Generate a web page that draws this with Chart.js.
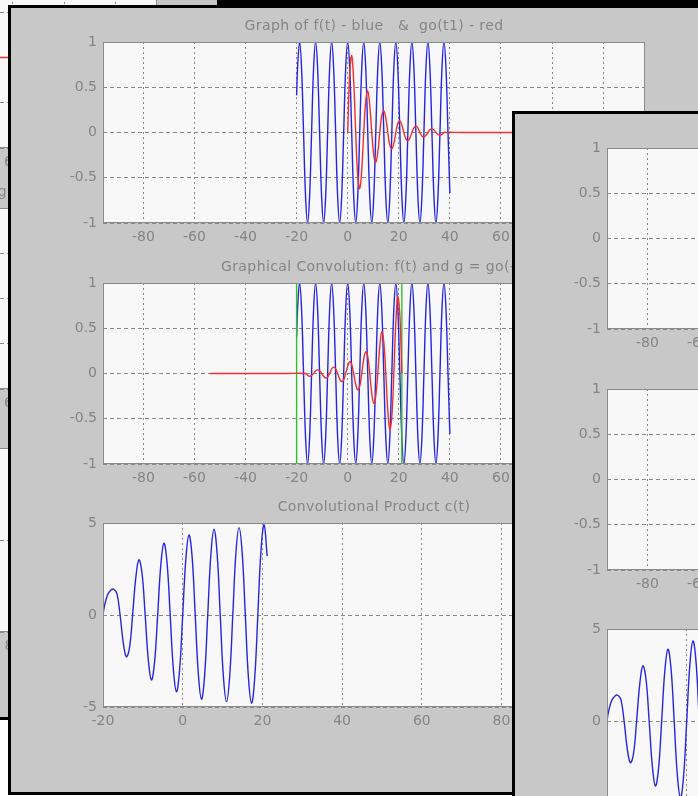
<!DOCTYPE html>
<html>
<head>
<meta charset="utf-8">
<script src="https://cdn.jsdelivr.net/npm/chart.js@4.4.1/dist/chart.umd.min.js"></script>
<style>
    html, body { margin: 0; padding: 0; background: #fff; width: 698px; height: 796px; overflow: hidden; position: relative; }
    .win { position: absolute; background: #c8c8c8; border: 3px solid #000; width: 694px; height: 784px; overflow: hidden; }
    .win canvas { position: absolute; }
    #topStrip { position: absolute; left: 220px; top: 0; width: 478px; height: 5px; background: #000; z-index: 2; }
</style>
</head>
<body>
<div id="topStrip"></div>
<script>
/* ==========================================================
   Graphical convolution demo - three stacked figure windows
========================================================== */

// f(t): blue input signal
const fTime = [-20, -19.63, -18.85, -18.06, -17.28, -16.49, -15.71, -14.92, -14.14, -13.35, -12.57, -11.78, -11.00,
    -10.21, -9.42, -8.64, -7.85, -7.07, -6.28, -5.50, -4.71, -3.93, -3.14, -2.36, -1.57, -0.79, 0,
    0.79, 1.57, 2.36, 3.14, 3.93, 4.71, 5.50, 6.28, 7.07, 7.85, 8.64, 9.42, 10.21, 11.00, 11.78, 12.57,
    13.35, 14.14, 14.92, 15.71, 16.49, 17.28, 18.06, 18.85, 19.63, 20.42, 21.21, 21.99, 22.78, 23.56,
    24.35, 25.13, 25.92, 26.70, 27.49, 28.27, 29.06, 29.85, 30.63, 31.42, 32.20, 32.99, 33.77, 34.56,
    35.34, 36.13, 36.91, 37.70, 38.48, 39.27, 40];
const fVal = [0.41,
    0.71, 1, 0.71, 0, -0.71, -1, -0.71, 0,
    0.71, 1, 0.71, 0, -0.71, -1, -0.71, 0,
    0.71, 1, 0.71, 0, -0.71, -1, -0.71, 0,
    0.71, 1, 0.71, 0, -0.71, -1, -0.71, 0,
    0.71, 1, 0.71, 0, -0.71, -1, -0.71, 0,
    0.71, 1, 0.71, 0, -0.71, -1, -0.71, 0,
    0.71, 1, 0.71, 0, -0.71, -1, -0.71, 0,
    0.71, 1, 0.71, 0, -0.71, -1, -0.71, 0,
    0.71, 1, 0.71, 0, -0.71, -1, -0.71, 0,
    0.71, 1, 0.71, 0,
    -0.67];

// go(t1): red impulse response (damped oscillation)
const goTime = [0, 0.79, 1.57, 2.36, 3.14, 3.93, 4.71, 5.50, 6.28, 7.07, 7.85, 8.64, 9.42, 10.21, 11.00, 11.78,
    12.57, 13.35, 14.14, 14.92, 15.71, 16.49, 17.28, 18.06, 18.85, 19.63, 20.42, 21.21, 21.99, 22.78,
    23.56, 24.35, 25.13, 25.92, 26.70, 27.49, 28.27, 29.06, 29.85, 30.63, 31.42, 32.20, 32.99, 33.77,
    34.56, 35.34, 36.13, 36.91, 37.70, 45, 55, 65, 75];
const goVal = [0, 0.65, 0.85, 0.56, 0, -0.48, -0.62, -0.41, 0, 0.35, 0.46, 0.30, 0, -0.25, -0.33, -0.22,
    0, 0.19, 0.24, 0.16, 0, -0.14, -0.18, -0.12, 0, 0.10, 0.13, 0.08, 0, -0.07,
    -0.09, -0.06, 0, 0.05, 0.07, 0.05, 0, -0.04, -0.05, -0.03, 0, 0.03, 0.04, 0.03,
    0, -0.02, -0.03, -0.02, 0, 0, 0, 0, 0];

// current shift of the flipped g, and the green integration limits
const shiftT = 21.2;
const limitT = [-20, 21.2];

// c(t): convolution product computed up to the current shift
const cTime = [-20, -19.63, -18.85, -18.06, -17.28, -16.49, -15.71, -14.92, -14.14, -13.35, -12.57, -11.78, -11.00,
    -10.21, -9.42, -8.64, -7.85, -7.07, -6.28, -5.50, -4.71, -3.93, -3.14, -2.36, -1.57, -0.79, 0,
    0.79, 1.57, 2.36, 3.14, 3.93, 4.71, 5.50, 6.28, 7.07, 7.85, 8.64, 9.42, 10.21, 11.00, 11.78, 12.57,
    13.35, 14.14, 14.92, 15.71, 16.49, 17.28, 18.06, 18.85, 19.63, 20.42, 21.2];
const cVal = [0, 0.5, 1.1, 1.35, 1.4, 1.15, 0, -1.5, -2.27, -1.78, 0, 2.0, 3.0,
    2.27, 0, -2.41, -3.53, -2.59, 0, 2.70, 3.9, 2.84, 0, -2.91, -4.17, -3.02, 0,
    3.05, 4.35, 3.16, 0, -3.21, -4.58, -3.28, 0, 3.29, 4.66, 3.32, 0, -3.34, -4.71, -3.36, 0,
    3.37, 4.75, 3.39, 0, -3.39, -4.8, -3.44, 0, 3.46, 4.9, 3.2];

// axis ticks
const xTicksTop = [-80, -60, -40, -20, 0, 20, 40, 60, 80, 100];
const xTicksBottom = [-20, 0, 20, 40, 60, 80, 100];
const yTicksTop = [-1, -0.5, 0, 0.5, 1];
const yTicksBottom = [-5, 0, 5];

const COLORS = {
    blue: "#2626dc",
    red: "#ee3030",
    green: "#2fbf2f",
    grid: "#8a8a8a",
    text: "#858585",
    plotBg: "#f8f8f8",
    frame: "#8a8a8a"
};

const FONT = "'DejaVu Sans', sans-serif";

// canvas margins around each plot box
const M = { l: 60, t: 26, r: 8, b: 30 };

// plot boxes in the coordinates of the front window
const BOXES = [
    { x: 103, y: 42, w: 542, h: 181 },
    { x: 103, y: 283, w: 542, h: 181 },
    { x: 103, y: 523, w: 542, h: 184 }
];

function pairs(xs, ys) {
    return xs.map((x, i) => ({ x: x, y: ys[i] }));
}

function curve(data, color, order) {
    return {
        data: data,
        borderColor: color,
        borderWidth: 1.4,
        pointRadius: 0,
        tension: 0.4,
        order: order
    };
}

const flipped = goTime.map((t, i) => ({ x: shiftT - t, y: goVal[i] })).reverse();

const PLOTS = [
    {
        title: "Graph of f(t) - blue   &  go(t1) - red",
        xMin: -95.8, xMax: 116.4, xTicks: xTicksTop,
        yMin: -1, yMax: 1, yTicks: yTicksTop,
        datasets: () => [
            curve(pairs(goTime, goVal), COLORS.red, 0),
            curve(pairs(fTime, fVal), COLORS.blue, 2)
        ]
    },
    {
        title: "Graphical Convolution: f(t) and g = go(-t)",
        xMin: -95.8, xMax: 116.4, xTicks: xTicksTop,
        yMin: -1, yMax: 1, yTicks: yTicksTop,
        datasets: () => [
            curve(flipped, COLORS.red, 0),
            ...limitT.map(t => curve([{ x: t, y: -1 }, { x: t, y: 1 }], COLORS.green, 1)),
            curve(pairs(fTime, fVal), COLORS.blue, 2)
        ]
    },
    {
        title: "Convolutional Product c(t)",
        xMin: -20, xMax: 116, xTicks: xTicksBottom,
        yMin: -5, yMax: 5, yTicks: yTicksBottom,
        datasets: () => [
            curve(pairs(cTime, cVal), COLORS.blue, 0)
        ]
    }
];

// plot background, box frame and title
const framePlugin = {
    id: "frame",
    beforeDraw(chart) {
        const a = chart.chartArea, ctx = chart.ctx;
        ctx.save();
        ctx.fillStyle = COLORS.plotBg;
        ctx.fillRect(a.left, a.top, a.right - a.left, a.bottom - a.top);
        ctx.restore();
    },
    afterDraw(chart, args, opts) {
        const a = chart.chartArea, ctx = chart.ctx;
        ctx.save();
        ctx.strokeStyle = COLORS.frame;
        ctx.lineWidth = 1;
        ctx.strokeRect(a.left + 0.5, a.top + 0.5, a.right - a.left - 1, a.bottom - a.top - 1);
        ctx.fillStyle = COLORS.text;
        ctx.font = "14px " + FONT;
        ctx.letterSpacing = "0.4px";
        ctx.textAlign = "center";
        ctx.textBaseline = "middle";
        ctx.fillText(opts.text, (a.left + a.right) / 2, a.top - 16);
        ctx.restore();
    }
};

function makePlot(canvas, box, spec) {
    canvas.width = box.w + M.l + M.r;
    canvas.height = box.h + M.t + M.b;

    const tickFont = { family: FONT, size: 14 };

    return new Chart(canvas.getContext("2d"), {
        type: "line",
        data: { datasets: spec.datasets() },
        plugins: [framePlugin],
        options: {
            responsive: false,
            animation: false,
            devicePixelRatio: 1,
            layout: { padding: { top: M.t, right: M.r, left: 0, bottom: 0 } },
            plugins: {
                legend: { display: false },
                tooltip: { enabled: false },
                frame: { text: spec.title }
            },
            scales: {
                x: {
                    type: "linear",
                    min: spec.xMin,
                    max: spec.xMax,
                    afterBuildTicks: (s) => { s.ticks = spec.xTicks.map(v => ({ value: v })); },
                    afterFit: (s) => { s.height = M.b; },
                    grid: { color: COLORS.grid, drawTicks: false, lineWidth: 1 },
                    border: { display: false, dash: [2, 3] },
                    ticks: { color: COLORS.text, font: tickFont, padding: 6, maxRotation: 0, callback: (v) => String(v) }
                },
                y: {
                    type: "linear",
                    min: spec.yMin,
                    max: spec.yMax,
                    afterBuildTicks: (s) => { s.ticks = spec.yTicks.map(v => ({ value: v })); },
                    afterFit: (s) => { s.width = M.l; },
                    grid: { color: COLORS.grid, drawTicks: false, lineWidth: 1 },
                    border: { display: false, dash: [4, 3] },
                    ticks: { color: COLORS.text, font: tickFont, padding: 6, callback: (v) => String(v) }
                }
            }
        }
    });
}

// one figure window, shifted by (dx, dy) from the front window
function makeWindow(dx, dy, z) {
    const win = document.createElement("div");
    win.className = "win";
    win.style.left = (8 + dx) + "px";
    win.style.top = (5 + dy) + "px";
    win.style.zIndex = z;
    document.body.appendChild(win);

    PLOTS.forEach((spec, i) => {
        const box = BOXES[i];
        const canvas = document.createElement("canvas");
        canvas.style.left = (box.x - M.l - 11) + "px";
        canvas.style.top = (box.y - M.t - 8) + "px";
        win.appendChild(canvas);
        makePlot(canvas, box, spec);
    });
}

makeWindow(-488, -75, 1);
makeWindow(0, 0, 3);
makeWindow(504, 106, 4);
</script>
</body>
</html>
